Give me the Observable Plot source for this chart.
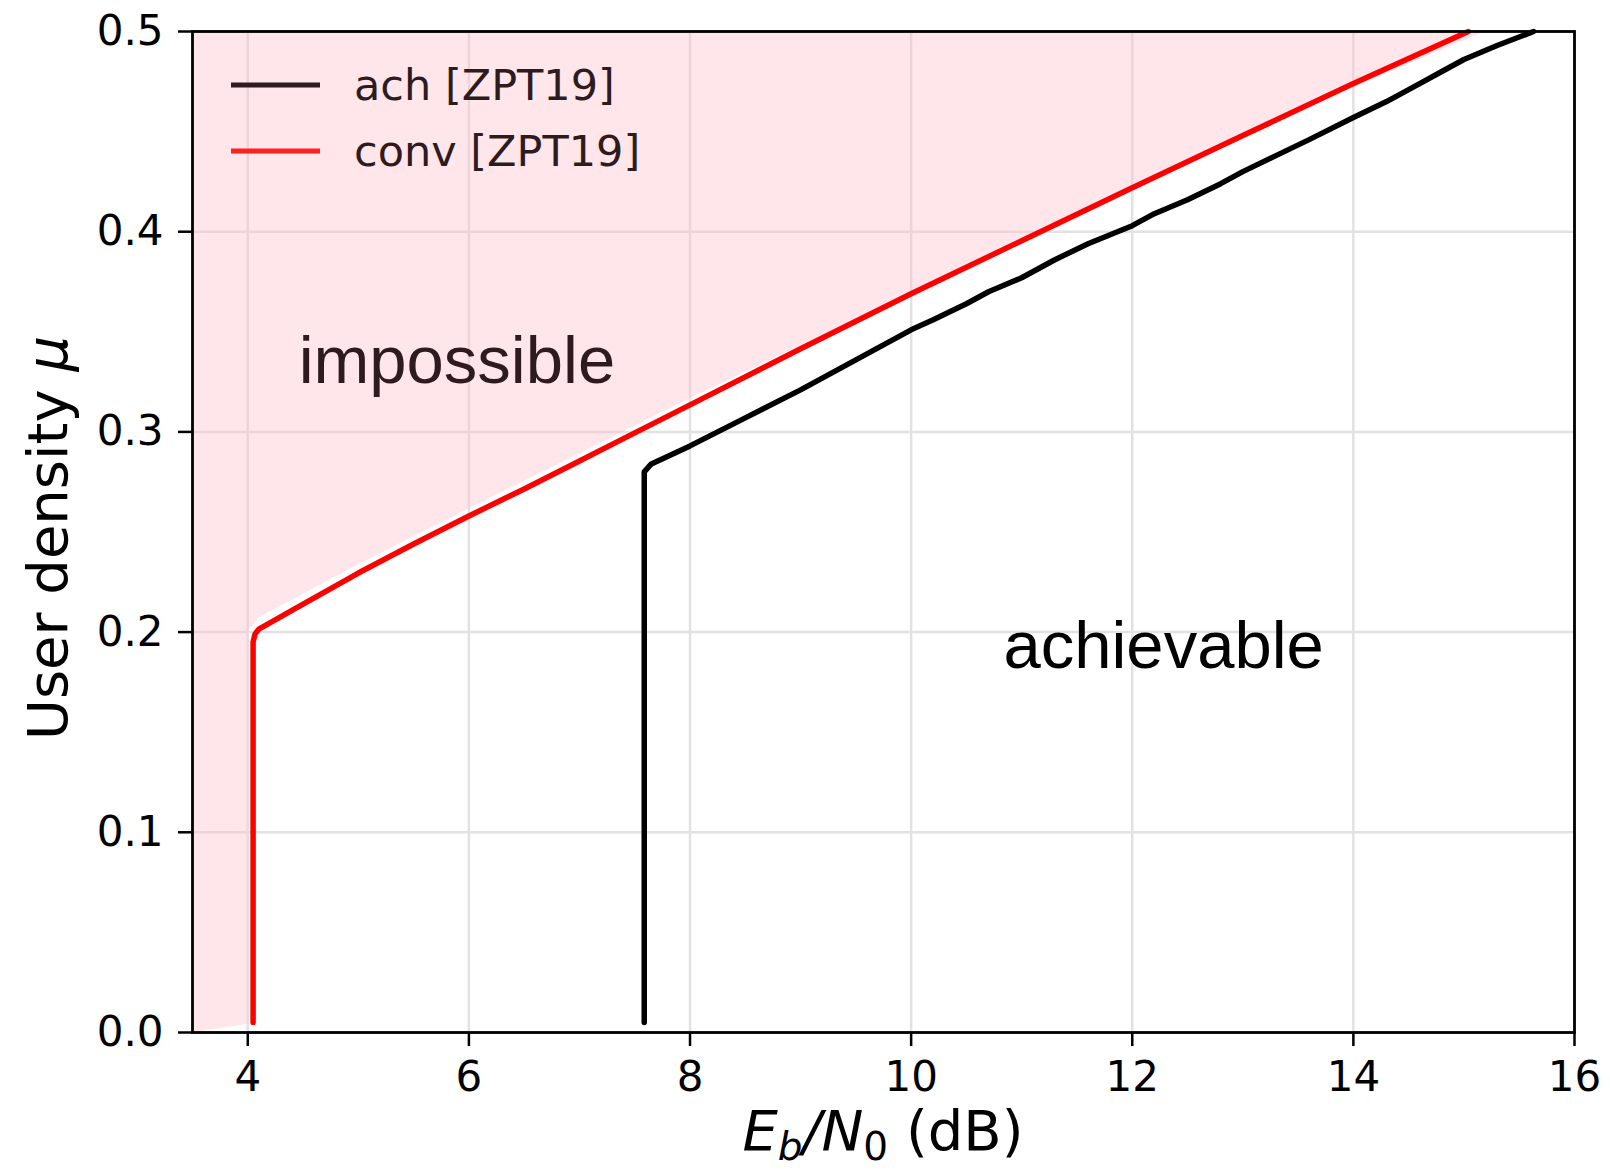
<!DOCTYPE html>
<html>
<head>
<meta charset="utf-8">
<script src="https://cdn.jsdelivr.net/npm/d3@7"></script>
<script src="https://cdn.jsdelivr.net/npm/@observablehq/plot@0.6"></script>
<style>
  html, body { margin: 0; padding: 0; background: white; }
  #chart { width: 1610px; height: 1173px; }
</style>
</head>
<body>
<div id="chart"></div>
<script>
// ---- data ----
const xTicks = [4, 6, 8, 10, 12, 14, 16];
const yTicks = [0, 0.1, 0.2, 0.3, 0.4, 0.5];

// achievability bound (black)
const achX = [7.586, 7.586, 7.65, 8.0, 8.5, 9.0, 9.5, 10.0, 10.2, 10.5, 10.7, 11.0, 11.3, 11.6, 12.0, 12.2, 12.5, 12.8, 13.0, 13.3, 13.6, 14.0, 14.3, 14.6, 14.8, 15.0, 15.3, 15.63];
const achY = [0.005, 0.280, 0.284, 0.293, 0.307, 0.321, 0.336, 0.351, 0.356, 0.364, 0.370, 0.377, 0.386, 0.394, 0.403, 0.409, 0.416, 0.424, 0.430, 0.438, 0.446, 0.457, 0.465, 0.474, 0.480, 0.486, 0.493, 0.500];

// converse bound (red)
const convX = [4.048, 4.048, 4.065, 4.1, 4.5, 5.0, 5.5, 6.0, 6.5, 7.0, 7.5, 8.0, 9.0, 10.0, 11.0, 12.0, 13.0, 14.0, 15.04];
const convY = [0.005, 0.195, 0.199, 0.2015, 0.214, 0.2295, 0.244, 0.258, 0.2715, 0.2855, 0.2995, 0.3135, 0.3415, 0.369, 0.3955, 0.422, 0.448, 0.474, 0.500];

// edge of the shaded "impossible" region
const fillX = [3.5, 4.0, 4.0, 4.1, 5.0, 6.0, 7.0, 8.0, 9.0, 10.0, 11.0, 12.0, 13.0, 14.0, 15.2];
const fillY = [0.0, 0.004, 0.2, 0.207, 0.2335, 0.2615, 0.289, 0.3165, 0.343, 0.3695, 0.396, 0.4215, 0.447, 0.472, 0.500];

// region annotations
const regionNames = ["impossible", "achievable"];
const regionX = [4.46, 10.835];
const regionY = [0.3349, 0.193];

// legend
const legendNames = ["ach [ZPT19]", "conv [ZPT19]"];
const legendColors = ["#2e1b20", "#ff2020"];

// ---- build tables ----
const ach = achX.map((x, i) => ({x, y: achY[i]}));
const conv = convX.map((x, i) => ({x, y: convY[i]}));
const fillEdge = fillX.map((x, i) => ({x, y: fillY[i]}));
const regions = regionNames.map((t, i) => ({text: t, x: regionX[i], y: regionY[i]}));

const X0 = 3.5;

const chart = Plot.plot({
  width: 1610,
  height: 1173,
  marginLeft: 192,
  marginRight: 36,
  marginTop: 31,
  marginBottom: 141,
  style: {fontFamily: "DejaVu Sans", fontSize: "42px", background: "white", color: "black"},
  x: {domain: [X0, 16]},
  y: {domain: [0, 0.5]},
  marks: [
    Plot.gridX(xTicks, {stroke: "#e2e2e2", strokeOpacity: 1, strokeWidth: 2.5}),
    Plot.gridY(yTicks, {stroke: "#e2e2e2", strokeOpacity: 1, strokeWidth: 2.5}),
    Plot.areaX(fillEdge, {y: "y", x1: X0, x2: "x", fill: "pink", fillOpacity: 0.4}),
    Plot.line(ach, {x: "x", y: "y", stroke: "black", strokeWidth: 5.5}),
    Plot.line(conv, {x: "x", y: "y", stroke: "red", strokeWidth: 5.5}),
    Plot.text(regions.filter(d => d.text === "impossible"), {x: "x", y: "y", text: "text", textAnchor: "start", lineAnchor: "middle", fontSize: 67, fontFamily: "Liberation Sans", fill: "#2e1b20"}),
    Plot.text(regions.filter(d => d.text === "achievable"), {x: "x", y: "y", text: "text", textAnchor: "start", lineAnchor: "middle", fontSize: 67, fontFamily: "Liberation Sans", fill: "black"}),
    Plot.axisX({ticks: xTicks, tickSize: 14, tickPadding: 15, fontSize: 42, label: null, strokeWidth: 2.5}),
    Plot.axisY({ticks: yTicks, tickFormat: ".1f", tickSize: 14, tickPadding: 15, fontSize: 42, label: null, strokeWidth: 2.5}),
    Plot.frame({stroke: "black", strokeWidth: 2.8})
  ]
});

document.getElementById("chart").appendChild(chart);

// ---- axis labels and legend ----
const svg = d3.select(chart);

// x label: E_b/N_0 (dB)
const xl = svg.append("text")
  .attr("x", 883).attr("y", 1150)
  .attr("text-anchor", "middle")
  .attr("font-family", "DejaVu Sans")
  .attr("font-size", 56)
  .attr("fill", "black");
xl.append("tspan").attr("font-style", "italic").text("E");
xl.append("tspan").attr("font-style", "italic").attr("font-size", 39).attr("dy", 10).text("b");
xl.append("tspan").attr("font-style", "italic").attr("dy", -10).text("/N");
xl.append("tspan").attr("font-size", 39).attr("dy", 10).text("0");
xl.append("tspan").attr("dy", -10).text(" (dB)");

// y label: User density μ
const yl = svg.append("text")
  .attr("transform", "translate(67,538) rotate(-90)")
  .attr("text-anchor", "middle")
  .attr("font-family", "DejaVu Sans")
  .attr("font-size", 56)
  .attr("fill", "black");
yl.append("tspan").text("User density ");
yl.append("tspan").attr("font-style", "italic").text("μ");

// legend
const lg = svg.append("g");
legendNames.forEach((name, i) => {
  const y = 85 + i * 66;
  lg.append("line")
    .attr("x1", 231).attr("x2", 320)
    .attr("y1", y).attr("y2", y)
    .attr("stroke", legendColors[i])
    .attr("stroke-width", 5);
  lg.append("text")
    .attr("x", 354).attr("y", y)
    .attr("dy", "0.36em")
    .attr("text-anchor", "start")
    .attr("font-family", "DejaVu Sans")
    .attr("font-size", 43)
    .attr("fill", "#2e1b20")
    .text(name);
});
</script>
</body>
</html>
